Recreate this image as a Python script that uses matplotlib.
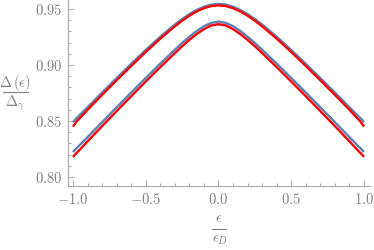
import matplotlib
matplotlib.use("Agg")
import matplotlib.pyplot as plt
import numpy as np
from matplotlib.ticker import MultipleLocator, FuncFormatter
from matplotlib.lines import Line2D

plt.rcParams['mathtext.fontset'] = 'cm'
plt.rcParams['font.family'] = 'serif'
plt.rcParams['font.serif'] = ['cmr10', 'DejaVu Serif']

# half curves (the plot is symmetric around 0)
x_half = [0.0, 0.05, 0.1, 0.15, 0.2, 0.25, 0.3, 0.4, 0.5, 0.6, 0.7, 0.8, 0.9, 0.95, 0.975, 1.0]
upper_blue = [0.9545, 0.9539, 0.9520, 0.9491, 0.9454, 0.9410, 0.9361, 0.9252, 0.9134,
              0.9010, 0.8883, 0.8754, 0.8622, 0.8558, 0.8526, 0.8490]
upper_red = [0.9532, 0.9526, 0.9507, 0.9478, 0.9440, 0.9395, 0.9345, 0.9235, 0.9116,
             0.8991, 0.8863, 0.8733, 0.8600, 0.8530, 0.8495, 0.8450]
lower_blue = [0.9387, 0.9376, 0.9346, 0.9303, 0.9252, 0.9196, 0.9136, 0.9012, 0.8884,
              0.8754, 0.8622, 0.8489, 0.8356, 0.8290, 0.8258, 0.8223]
lower_red = [0.9364, 0.9353, 0.9320, 0.9276, 0.9224, 0.9167, 0.9106, 0.8981, 0.8852,
             0.8721, 0.8588, 0.8454, 0.8318, 0.8248, 0.8215, 0.8180]

blue = '#5e81b5'
red = '#ff0000'
axcol = '#b0b0b0'
txtcol = '#808080'
W, H = 374, 250


def mirror(v):
    v = np.asarray(v)
    return np.concatenate([v[:0:-1], v])


def px(x, y):
    # pixel position (from top left) -> figure fraction
    return x / W, 1 - y / H


xs = np.concatenate([-np.asarray(x_half)[:0:-1], x_half])

fig = plt.figure(figsize=(3.74, 2.5), dpi=100)
ax = fig.add_axes([68 / W, 64 / H, 302 / W, 186 / H])

for yb, yr in [(upper_blue, upper_red), (lower_blue, lower_red)]:
    ax.plot(xs, mirror(yb), color=blue, lw=1.7, solid_capstyle='butt')
    ax.plot(xs, mirror(yr), color=red, lw=1.7, solid_capstyle='butt')

ax.set_xlim(-1.034, 1.041)
ax.set_ylim(0.792, 0.958)

ax.xaxis.set_major_locator(MultipleLocator(0.5))
ax.xaxis.set_minor_locator(MultipleLocator(0.1))
ax.yaxis.set_major_locator(MultipleLocator(0.05))
ax.yaxis.set_minor_locator(MultipleLocator(0.01))
ax.xaxis.set_major_formatter(FuncFormatter(lambda v, p: '$%.1f$' % v))
ax.yaxis.set_major_formatter(FuncFormatter(lambda v, p: '$%.2f$' % v))

for s in ['top', 'right']:
    ax.spines[s].set_visible(False)
for s in ['left', 'bottom']:
    ax.spines[s].set_color(axcol)
    ax.spines[s].set_linewidth(0.9)

ax.tick_params(which='both', direction='in', color=axcol, labelcolor=txtcol,
               labelsize=10.5, width=0.8)
ax.tick_params(which='major', length=4, pad=4)
ax.tick_params(which='minor', length=2.2)

# y label: Delta(eps) / Delta_gamma, drawn as a stacked fraction
fig.text(*px(15.5, 83), r'$\Delta\,(\epsilon)$', ha='center', va='center',
         fontsize=10.5, color=txtcol)
fig.add_artist(Line2D([3 / W, 28 / W], [1 - 92 / H] * 2, color=txtcol, lw=0.8))
fig.text(*px(15.5, 103), r'$\Delta_\gamma$', ha='center', va='center',
         fontsize=10.5, color=txtcol)

# x label: eps / eps_D
fig.text(*px(219, 218), r'$\epsilon$', ha='center', va='center',
         fontsize=10.5, color=txtcol)
fig.add_artist(Line2D([212 / W, 226 / W], [1 - 229 / H] * 2, color=txtcol, lw=0.8))
fig.text(*px(220, 240), r'$\epsilon_D$', ha='center', va='center',
         fontsize=10.5, color=txtcol)

fig.savefig('out.png', dpi=100)
